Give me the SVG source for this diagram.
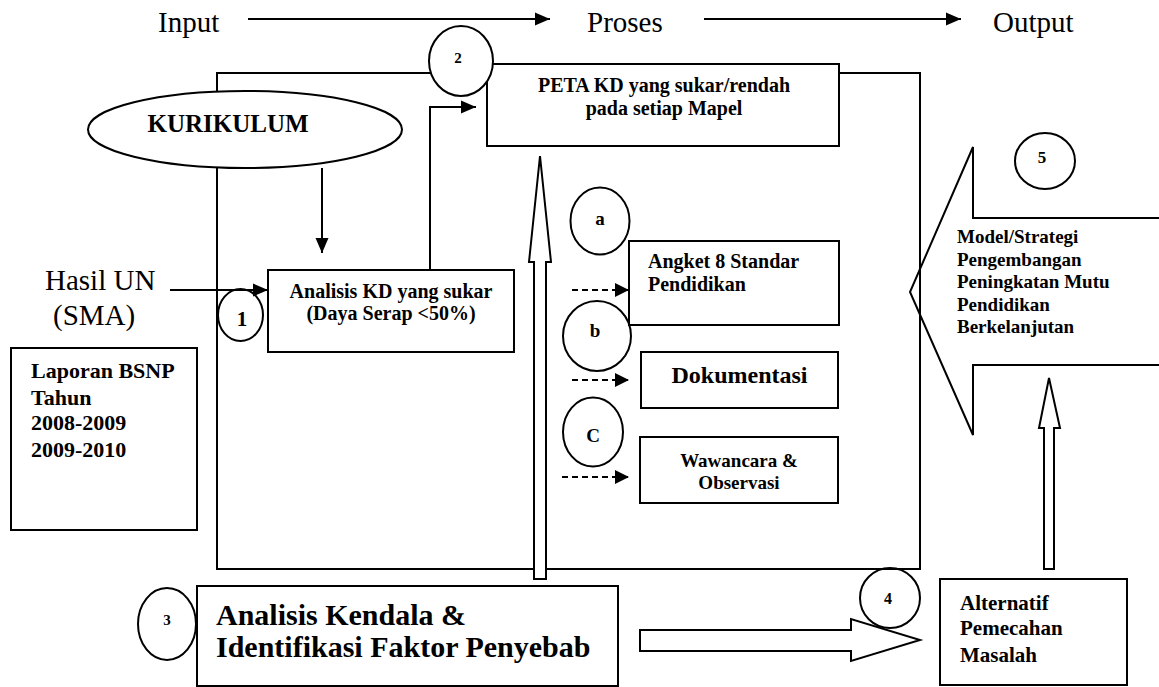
<svg xmlns="http://www.w3.org/2000/svg" width="1159" height="687" viewBox="0 0 1159 687">
<defs>
<style>
text{font-family:"Liberation Serif","Times New Roman",serif;fill:#000}
.b{font-weight:bold}
.ln{fill:none;stroke:#000;stroke-width:2}
.box{fill:#fff;stroke:#000;stroke-width:2}
.open{fill:none;stroke:#000;stroke-width:2}
.hollow{fill:#fff;stroke:#000;stroke-width:2;stroke-linejoin:miter}
.dash{fill:none;stroke:#000;stroke-width:2;stroke-dasharray:6 4}
.mid{text-anchor:middle}
</style>
<marker id="ah" markerUnits="userSpaceOnUse" markerWidth="16" markerHeight="14" refX="15" refY="7" orient="auto">
<path d="M0,0.5 L15,7 L0,13.5 Z" fill="#000"/>
</marker>
<marker id="ahs" markerUnits="userSpaceOnUse" markerWidth="15" markerHeight="14" refX="14" refY="7" orient="auto">
<path d="M0,0 L14,7 L0,14 Z" fill="#000"/>
</marker>
</defs>
<rect width="1159" height="687" fill="#fff"/>

<g id="header">
<text x="158" y="32" font-size="29">Input</text>
<text x="587" y="32" font-size="29">Proses</text>
<text x="993" y="32" font-size="29">Output</text>
</g>

<g id="frame">
<rect x="217" y="73" width="703" height="496" class="ln"/>
</g>

<g id="connectors">
<line x1="248" y1="19" x2="550" y2="19" class="ln" marker-end="url(#ah)"/>
<line x1="704" y1="19" x2="961" y2="19" class="ln" marker-end="url(#ah)"/>
<line x1="322" y1="168" x2="322" y2="253" class="ln" marker-end="url(#ah)"/>
<line x1="170" y1="290" x2="268" y2="290" class="ln" marker-end="url(#ah)"/>
<polyline points="430,270 430,107 476,107" class="ln" marker-end="url(#ah)"/>
<line x1="572" y1="290" x2="629" y2="290" class="dash" marker-end="url(#ahs)"/>
<line x1="572" y1="380" x2="629" y2="380" class="dash" marker-end="url(#ahs)"/>
<line x1="562" y1="477" x2="629" y2="477" class="dash" marker-end="url(#ahs)"/>
<polygon points="534,579 534,262 529,262 540,156 551,262 546,262 546,579" class="hollow"/>
<polygon points="640,630 851,630 851,619 920,640 851,661 851,651 640,651" class="hollow"/>
<polygon points="1044,569 1044,428 1039,428 1049,378 1060,428 1054,428 1054,569" class="hollow"/>
</g>

<g id="node-kurikulum">
<ellipse cx="245" cy="129.5" rx="157" ry="38.5" class="box"/>
<text x="228" y="132" font-size="25" class="b mid">KURIKULUM</text>
</g>

<g id="node-peta">
<rect x="487" y="64" width="352" height="82" class="box"/>
<text x="664" y="92" font-size="20" class="b mid">PETA KD yang sukar/rendah</text>
<text x="664" y="115" font-size="20" class="b mid">pada setiap Mapel</text>
</g>

<g id="node-circle2">
<ellipse cx="461" cy="61" rx="32" ry="35" class="box"/>
<text x="458" y="63" font-size="15" class="b mid">2</text>
</g>

<g id="node-hasil-un">
<text x="45" y="290" font-size="29">Hasil UN</text>
<text x="53" y="325" font-size="29">(SMA)</text>
</g>

<g id="node-circle1">
<ellipse cx="240.5" cy="315" rx="22.5" ry="26" class="open"/>
<text x="242" y="326" font-size="21" class="b mid">1</text>
</g>

<g id="node-analisis-kd">
<rect x="268" y="270" width="246" height="82" class="box"/>
<text x="391" y="298" font-size="20" class="b mid">Analisis KD yang sukar</text>
<text x="391" y="320" font-size="20" class="b mid">(Daya Serap &lt;50%)</text>
</g>

<g id="node-laporan">
<rect x="11" y="348" width="186" height="182" class="box"/>
<text x="31" y="378" font-size="22" class="b">Laporan BSNP</text>
<text x="31" y="405" font-size="22" class="b">Tahun</text>
<text x="31" y="430" font-size="22" class="b">2008-2009</text>
<text x="31" y="457" font-size="22" class="b">2009-2010</text>
</g>

<g id="node-circle-a">
<ellipse cx="600" cy="221" rx="29.5" ry="33.5" class="open"/>
<text x="600" y="225" font-size="19" class="b mid">a</text>
</g>

<g id="node-angket">
<rect x="629" y="241" width="210" height="84" class="box"/>
<text x="648" y="268" font-size="20" class="b">Angket 8 Standar</text>
<text x="648" y="291" font-size="20" class="b">Pendidikan</text>
</g>

<g id="node-circle-b">
<ellipse cx="597" cy="336" rx="34" ry="35" class="open"/>
<text x="595" y="337" font-size="19" class="b mid">b</text>
</g>

<g id="node-dokumentasi">
<rect x="641" y="352" width="197" height="56" class="box"/>
<text x="739.5" y="383" font-size="24" class="b mid">Dokumentasi</text>
</g>

<g id="node-circle-c">
<ellipse cx="593" cy="432" rx="30" ry="34.5" class="open"/>
<text x="593" y="442" font-size="19" class="b mid">C</text>
</g>

<g id="node-wawancara">
<rect x="640" y="437" width="198" height="66" class="box"/>
<text x="739" y="467" font-size="19" class="b mid">Wawancara &amp;</text>
<text x="739" y="489" font-size="19" class="b mid">Observasi</text>
</g>

<g id="node-model">
<path d="M1165,218 L973,218 L973,147 L910,292 L973,435 L973,365 L1165,365" class="open"/>
<text x="957" y="243" font-size="19" class="b">Model/Strategi</text>
<text x="957" y="266" font-size="19" class="b">Pengembangan</text>
<text x="957" y="288" font-size="19" class="b">Peningkatan Mutu</text>
<text x="957" y="311" font-size="19" class="b">Pendidikan</text>
<text x="957" y="333" font-size="19" class="b">Berkelanjutan</text>
</g>

<g id="node-circle5">
<ellipse cx="1045" cy="161" rx="30" ry="28" class="open"/>
<text x="1042" y="163" font-size="17" class="b mid">5</text>
</g>

<g id="node-circle3">
<ellipse cx="167" cy="624" rx="29" ry="36" class="open"/>
<text x="167" y="625" font-size="15" class="b mid">3</text>
</g>

<g id="node-analisis-kendala">
<rect x="197" y="586" width="421" height="100" class="box"/>
<text x="216" y="625" font-size="30" class="b">Analisis Kendala &amp;</text>
<text x="216" y="657" font-size="30" class="b">Identifikasi Faktor Penyebab</text>
</g>

<g id="node-circle4">
<ellipse cx="890" cy="598" rx="30" ry="30" class="open"/>
<text x="888" y="604" font-size="16" class="b mid">4</text>
</g>

<g id="node-alternatif">
<rect x="940" y="579" width="187" height="106" class="box"/>
<text x="960" y="610" font-size="21" class="b">Alternatif</text>
<text x="960" y="635" font-size="21" class="b">Pemecahan</text>
<text x="960" y="662" font-size="21" class="b">Masalah</text>
</g>
</svg>
